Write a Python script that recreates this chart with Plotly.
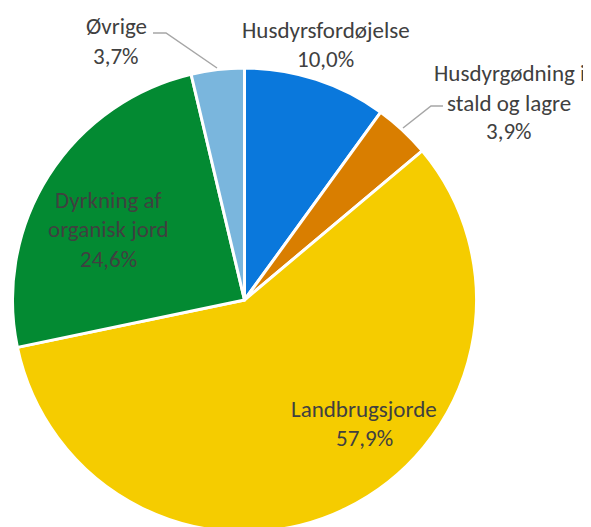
import plotly.graph_objects as go

W, H = 591, 527
OFF = 8  # page body margin offset

labels = ["Husdyrsfordøjelse", "Husdyrgødning i stald og lagre", "Landbrugsjorde",
          "Dyrkning af organisk jord", "Øvrige"]
values = [10.0, 3.9, 57.9, 24.6, 3.7]
colors = ["#0A78DC", "#D97E00", "#F5CC00", "#038A32", "#7AB6DD"]

# label text lines and (center x, baseline y) in pixels
label_lines = [
    (["Husdyrsfordøjelse", "10,0%"], 326, [37, 66]),
    (["Husdyrgødning i", "stald og lagre", "3,9%"], 509, [80, 110, 138]),
    (["Landbrugsjorde", "57,9%"], 364, [416, 445]),
    (["Dyrkning af", "organisk jord", "24,6%"], 108, [207, 236, 266]),
    (["Øvrige", "3,7%"], 116, [33, 63]),
]

FONT = "Carlito, Lato, sans-serif"
FS = 23
TXT = "#404040"


def px(x):
    return (x - OFF) / W


def py(y):
    return 1 - (y - OFF) / H


cx, cy, r = 244.5, 300, 232
fig = go.Figure(go.Pie(
    labels=labels, values=values, sort=False, direction="clockwise", rotation=0,
    marker=dict(colors=colors, line=dict(color="white", width=3)),
    textinfo="none", hoverinfo="label+percent", showlegend=False,
    domain=dict(x=[px(cx - r), px(cx + r)], y=[py(cy + r), py(cy - r)]),
))

annotations = []
for lines, x, baselines in label_lines:
    for t, b in zip(lines, baselines):
        annotations.append(dict(
            text=t, x=px(x), y=py(b - 7), xref="paper", yref="paper",
            xanchor="center", yanchor="middle", showarrow=False,
            font=dict(family=FONT, size=FS, color=TXT)))

leaders = [
    [(153, 33), (166, 33), (217, 68)],
    [(403, 128), (431, 106), (443, 106)],
]
shapes = []
for pts in leaders:
    path = "M " + " L ".join(f"{px(a)},{py(b)}" for a, b in pts)
    shapes.append(dict(type="path", path=path, xref="paper", yref="paper",
                       line=dict(color="#A6A6A6", width=1.5)))

fig.update_layout(
    width=W, height=H, margin=dict(l=0, r=0, t=0, b=0),
    paper_bgcolor="white", plot_bgcolor="white",
    annotations=annotations, shapes=shapes,
)

fig.write_html("out.html")
